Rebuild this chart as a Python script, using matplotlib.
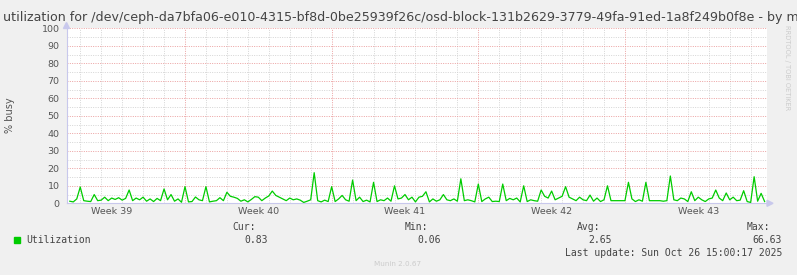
import matplotlib
matplotlib.use("Agg")
import matplotlib.pyplot as plt
from matplotlib.patches import Rectangle, Polygon
import numpy as np

# ---- data ----
title_text = "utilization for /dev/ceph-da7bfa06-e010-4315-bf8d-0be25939f26c/osd-block-131b2629-3779-49fa-91ed-1a8f249b0f8e - by month"
ylabel_text = "% busy"
week_labels = ["Week 39", "Week 40", "Week 41", "Week 42", "Week 43"]
week_centers = [-3.5, 3.5, 10.5, 17.5, 24.5]   # days relative to Mon of week 40
start_day = -5.5          # first sample (days relative to Mon of week 40)
step_day = 1.0 / 6.0      # 4-hour samples
utilization = [
    1.2, 0.8, 2.5, 9.3, 1.5, 1.2, 1.0, 5.0, 1.5, 1.8, 3.5, 1.5, 3.0, 2.2, 3.2, 1.8, 2.8, 7.6, 1.5, 3.0,
    2.0, 3.5, 1.2, 2.5, 1.0, 2.8, 1.5, 8.2, 2.0, 5.0, 1.2, 2.5, 0.6, 9.5, 0.8, 1.0, 3.6, 2.0, 1.5, 9.5,
    0.8, 1.2, 1.5, 3.2, 1.5, 6.3, 4.0, 3.5, 2.8, 1.2, 2.0, 0.8, 2.2, 3.8, 3.5, 1.5, 3.0, 4.2, 7.0, 4.5,
    3.5, 2.5, 1.5, 3.0, 2.0, 2.5, 1.8, 0.5, 1.2, 2.0, 17.5, 1.5, 0.8, 1.8, 1.0, 9.5, 1.0, 2.5, 4.5, 2.0,
    1.2, 13.3, 1.5, 3.5, 1.0, 1.8, 0.8, 12.0, 1.0, 2.0, 1.5, 3.0, 1.2, 10.0, 2.5, 3.0, 5.0, 2.0, 3.5, 0.8,
    3.5, 4.0, 6.6, 0.8, 2.5, 1.2, 2.0, 5.0, 2.0, 1.5, 2.5, 1.2, 14.0, 1.5, 2.0, 1.5, 0.8, 11.0, 1.0, 2.5,
    3.5, 1.0, 1.2, 1.0, 11.0, 1.5, 2.8, 2.0, 3.0, 0.8, 10.0, 1.0, 2.0, 1.5, 1.2, 7.6, 4.0, 3.0, 7.0, 2.0,
    3.0, 4.0, 9.5, 3.5, 2.5, 1.5, 3.5, 2.0, 1.5, 4.7, 1.2, 3.0, 1.0, 2.0, 10.0, 1.5, 1.5, 1.5, 1.5, 1.5,
    12.0, 2.5, 1.0, 2.0, 1.2, 12.0, 1.5, 1.5, 1.5, 1.5, 1.2, 1.5, 15.6, 2.0, 1.5, 3.0, 2.5, 1.0, 6.6, 1.5,
    3.5, 2.0, 1.0, 2.5, 3.0, 7.6, 3.0, 1.5, 5.9, 2.0, 3.5, 1.5, 1.8, 7.2, 1.0, 0.5, 15.2, 1.2, 5.7, 1.0,
]
legend_name = "Utilization"
stat_headers = ["Cur:", "Min:", "Avg:", "Max:"]
stat_values = ["0.83", "0.06", "2.65", "66.63"]
last_update = "Last update: Sun Oct 26 15:00:17 2025"
footer = "Munin 2.0.67"
side_text = "RRDTOOL / TOBI OETIKER"

# ---- figure ----
W, H = 797, 275
fig = plt.figure(figsize=(W / 100, H / 100), dpi=100, facecolor="#F0F0F0")

def fx(px):
    return px / W

def fy(py):
    return 1 - py / H

left_px, right_px = 66.5, 767.0
top_px, bot_px = 28.3, 203.3
ax = fig.add_axes([fx(left_px), fy(bot_px), (right_px - left_px) / W, (bot_px - top_px) / H])
ax.set_facecolor("white")

px_per_day = 20.95
x0 = (left_px - 185.0) / px_per_day
x1 = x0 + (right_px - left_px) / px_per_day
ax.set_xlim(x0, x1)
ax.set_ylim(0, 100)

t = start_day + step_day * np.arange(len(utilization))
dot = (0, (1, 1.4))
# minor grid
for d in range(int(np.ceil(x0)), int(np.floor(x1)) + 1):
    if d % 7 != 0:
        ax.axvline(d, color="#D4D4D4", lw=0.7, ls=dot, zorder=1)
for yv in range(5, 101, 10):
    ax.axhline(yv, color="#D4D4D4", lw=0.7, ls=dot, zorder=1)
# major grid
for d in range(-7, 29, 7):
    if x0 < d < x1:
        ax.axvline(d, color="#EBA0A0", lw=0.7, ls=dot, zorder=2)
for yv in range(10, 101, 10):
    ax.axhline(yv, color="#EBA0A0", lw=0.7, ls=dot, zorder=2)

ax.plot(t, utilization, color="#00CC00", lw=0.9, zorder=3)

for s in ["top", "right"]:
    ax.spines[s].set_visible(False)
for s in ["left", "bottom"]:
    ax.spines[s].set_color("#C8C8EC")
    ax.spines[s].set_linewidth(0.8)

ax.set_yticks(range(0, 101, 10))
ax.set_yticklabels([str(v) for v in range(0, 101, 10)])
ax.set_xticks(week_centers)
ax.set_xticklabels(week_labels)
ax.tick_params(axis="both", length=0, labelsize=6.8, colors="#555555", pad=3)
ax.tick_params(axis="y", pad=5)

# arrows
fig.patches.append(Polygon([[fx(63.5), fy(28.5)], [fx(69.5), fy(28.5)], [fx(66.5), fy(22.5)]],
                           closed=True, transform=fig.transFigure, color="#C8C8EC"))
fig.patches.append(Polygon([[fx(767), fy(200.3)], [fx(767), fy(206.3)], [fx(773), fy(203.3)]],
                           closed=True, transform=fig.transFigure, color="#C8C8EC"))

# texts
fig.text(fx(3), fy(21), title_text, fontsize=9.1, color="#444444", ha="left", va="baseline")
fig.text(fx(10), fy(115), ylabel_text, fontsize=7, color="#555555", rotation=90, ha="center", va="center")
fig.text(fx(787), fy(25), side_text, fontsize=4.8, color="#CCCCCC", rotation=-90, ha="center", va="top")

mono = "DejaVu Sans Mono"
fs = 7.0
fig.patches.append(Rectangle((fx(14), fy(242.5)), 6 / W, 6 / H, transform=fig.transFigure, color="#00CC00"))
fig.text(fx(26), fy(240), legend_name, family=mono, fontsize=fs, color="#444444", ha="left", va="center")
hdr_right = [256, 428, 600, 770]
val_right = [268, 441, 612, 782]
for h, v, hr, vr in zip(stat_headers, stat_values, hdr_right, val_right):
    fig.text(fx(hr), fy(227.5), h, family=mono, fontsize=fs, color="#444444", ha="right", va="center")
    fig.text(fx(vr), fy(240), v, family=mono, fontsize=fs, color="#444444", ha="right", va="center")
fig.text(fx(782), fy(252.5), last_update, family=mono, fontsize=fs, color="#444444", ha="right", va="center")
fig.text(fx(398), fy(264.5), footer, fontsize=5.2, color="#CCCCCC", ha="center", va="center")

fig.savefig("out.png", dpi=100, facecolor=fig.get_facecolor())
